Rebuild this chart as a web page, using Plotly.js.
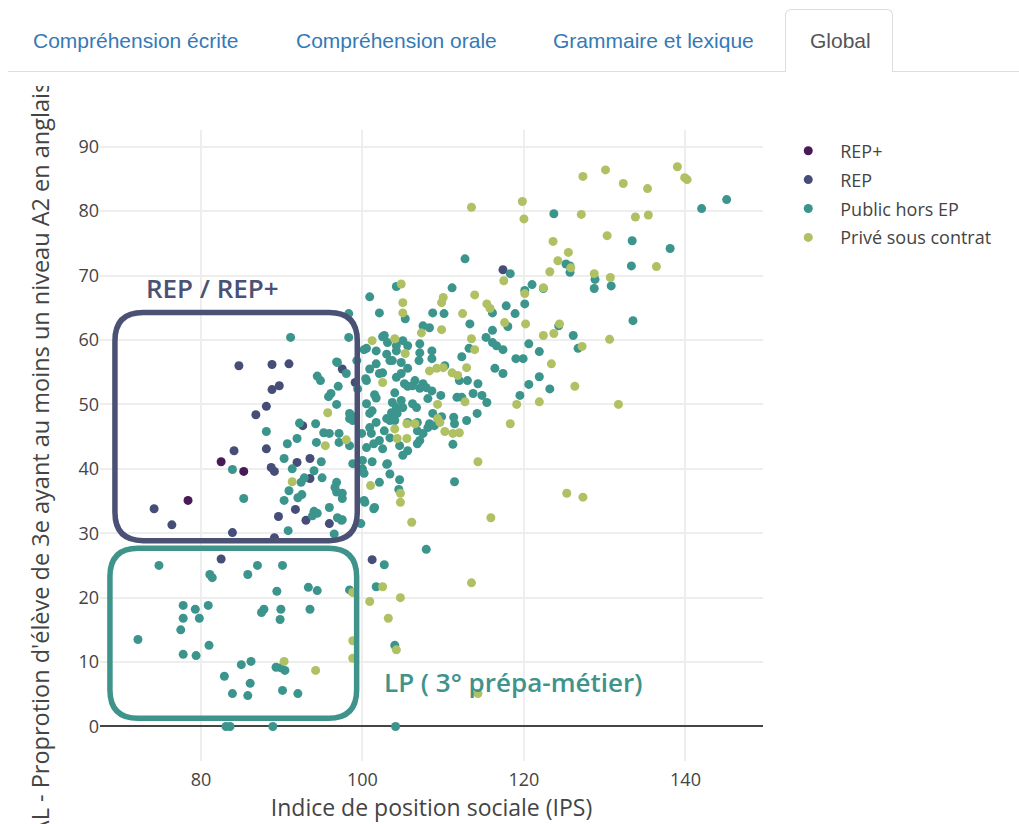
<!DOCTYPE html>
<html><head><meta charset="utf-8">
<script src="https://cdn.plot.ly/plotly-3.0.1.min.js"></script>
<style>
html,body{margin:0;padding:0;background:#fff;overflow:hidden;width:1019px;height:824px;}
#tabs{position:absolute;left:8px;width:1011px;top:0;height:71px;border-bottom:1.5px solid #ddd;z-index:2;background:#fff;font-family:"Liberation Sans",Arial,sans-serif;font-size:21px;}
.tab{position:absolute;top:26px;color:#337ab7;white-space:nowrap;line-height:30px;}
#activeTab{position:absolute;left:777px;top:9px;width:106px;height:62px;border:1.5px solid #ddd;border-bottom:none;border-radius:6px 6px 0 0;background:#fff;}
#activeTab span{position:absolute;left:24px;top:16px;line-height:30px;color:#555;}
#cover{position:absolute;left:0;top:73px;width:90px;height:13px;background:#fff;z-index:3;}
#chart{position:absolute;left:0;top:82px;width:1019px;height:760px;z-index:1;}
</style></head>
<body>
<div id="tabs">
  <span class="tab" style="left:25px">Compréhension écrite</span>
  <span class="tab" style="left:288px">Compréhension orale</span>
  <span class="tab" style="left:545px">Grammaire et lexique</span>
  <div id="activeTab"><span>Global</span></div>
</div>
<div id="cover"></div>
<div id="chart"></div>
<script>
// ---- Data (IPS, % of 3e pupils reaching at least A2 in English) ----
const seriesNames = ["REP+", "REP", "Public hors EP", "Privé sous contrat"];

const repPlus = [[82.5,41.1],[85.3,39.6],[78.4,35.1]];

const rep = [[84.7,56.0],[88.8,56.2],[90.9,56.3],[89.7,52.9],[88.8,52.3],[88.1,49.7],[86.8,48.4],[84.1,42.8],[88.1,43.1],[88.7,40.2],[89.1,39.6],[91.9,41.0],[93.5,41.6],[93.5,38.5],[74.2,33.8],[76.4,31.3],[83.9,30.1],[89.6,32.6],[91.7,33.7],[93.0,32.0],[95.9,31.5],[89.1,29.3],[82.5,26.0],[101.2,25.9],[97.5,55.5],[99.1,53.4],[92.6,46.7],[117.4,70.9]];

const publicHorsEP = [[74.8,25.0],[72.2,13.5],[77.8,18.8],[79.3,18.2],[80.9,18.8],[77.8,16.8],[79.8,16.8],[77.5,15.0],[77.8,11.2],[79.4,11.0],[81.0,12.6],[81.1,23.6],[81.4,23.1],[85.8,23.6],[87.0,25.0],[90.1,25.0],[89.4,21.0],[93.3,21.6],[94.4,21.1],[93.5,18.2],[87.5,17.7],[87.8,18.2],[89.9,18.2],[89.8,16.6],[85.0,9.6],[86.2,10.1],[82.9,7.8],[86.1,6.7],[83.9,5.1],[85.8,4.8],[89.3,9.2],[89.9,9.1],[90.4,8.7],[90.1,5.6],[92.0,5.1],[83.1,0],[83.6,0],[88.9,0],[104.1,0],[98.4,21.2],[102.7,25.1],[101.7,21.7],[104.0,12.6],[90.8,30.4],[96.5,29.9],
[111.2,43.8],[111.4,38.0],[107.9,27.5],[101.5,34.0],[100.3,34.8],[102.1,37.9],[101.2,41.1],[103.0,40.7],[103.4,39.2],[104.6,38.3],[104.5,36.8],[99.8,31.5],[97.4,32.0],[105.0,42.1],[105.6,42.8],[106.8,43.9],
[100.9,66.7],[98.3,64.1],[91.1,60.4],[98.3,60.4],[100.2,58.5],[96.8,56.6],[98.0,54.8],[99.3,56.8],[94.4,54.4],[94.8,53.7],[97.0,52.8],[95.8,51.2],[96.8,50.0],[100.4,54.0],[98.6,48.3],[88.1,45.8],[92.2,47.1],[94.2,47.0],[95.2,45.6],[95.9,45.5],[97.1,45.5],[94.3,44.1],[97.1,44.1],[91.9,44.7],[90.7,43.9],[98.4,43.6],[90.3,41.6],[83.9,39.9],[91.3,40.0],[92.8,38.6],[94.9,41.1],[94.0,39.7],[95.0,38.6],[85.3,35.4],[90.9,36.6],[92.0,35.5],[92.5,36.0],[96.6,37.1],[96.8,36.4],[97.5,35.4],[95.9,34.0],[94.0,33.4],[94.4,33.1],[96.9,32.4],[97.5,32.1],[100.2,35.1],[101.4,33.8],[98.8,40.8],[100.2,39.3],[100.5,43.3],[101.4,43.9],[101.7,47.2],[101.2,49.0],[101.7,51.0],[100.5,50.1],[99.9,45.5],
[102.1,64.2],[102.5,60.5],[103.1,59.6],[100.5,58.7],[101.7,58.3],[103.0,57.8],[104.2,58.3],[103.4,56.8],[100.9,55.5],[101.7,56.3],[102.5,54.9],[104.2,54.2],[100.5,53.7],[101.5,51.5],[99.4,52.4],[100.9,48.6],[100.9,46.4],[103.4,47.5],[102.7,45.9],[103.4,44.8],[102.1,44.4],[102.5,43.1],[103.1,40.8],[96.8,37.9],[98.8,47.5],[92.4,37.9],[93.8,32.7],[90.3,35.1],
[104.2,68.3],[111.1,68.1],[105.3,63.3],[108.7,64.2],[110.1,64.1],[116.1,64.2],[118.3,70.3],[117.8,65.3],[118.9,64.1],[120.1,67.7],[120.1,65.6],[121.0,68.6],[125.7,71.5],[125.7,70.5],[107.5,62.2],[108.3,61.9],[113.3,62.5],[115.3,60.4],[116.1,61.5],[116.1,59.6],[116.6,59.1],[117.4,58.5],[120.6,59.4],[121.9,58.2],[119.0,57.1],[119.9,57.1],[116.4,55.6],[117.4,54.8],[113.2,58.7],[112.3,57.4],[124.3,62.2],[126.1,60.7],[126.7,58.7],[121.9,54.3],[120.6,53.1],[123.2,52.4],[119.5,51.4],
[102.7,60.7],[104.2,59.1],[105.0,59.9],[105.6,59.1],[107.1,59.4],[107.1,58.0],[107.0,56.8],[108.6,58.3],[108.6,57.1],[110.2,56.0],[112.0,53.7],[113.0,53.7],[114.3,53.2],[112.3,51.1],[113.7,51.7],[114.8,51.4],[115.4,50.3],[111.7,51.1],[109.7,51.4],[108.1,50.9],[107.9,52.6],[107.5,53.2],[106.2,52.9],[105.6,52.8],[104.8,54.8],[105.6,55.6],[104.8,56.5],[103.7,56.8],[102.1,54.8],[104.0,51.8],[103.7,50.3],[105.0,49.5],[106.2,50.1],[106.7,49.5],[108.7,48.6],[109.8,48.1],[108.3,47.0],[111.4,47.0],[112.9,47.5],[114.2,48.6],[106.8,45.9],[108.1,46.4],[107.1,44.4],[104.6,43.6],[103.6,48.7],[103.0,47.8],[101.1,45.5],[100.0,41.3],[100.0,40.0],[97.5,36.2],[96.1,51.7],[96.9,56.5],[98.4,48.6],[98.4,47.8],
[106.5,53.7],[108.6,52.1],[104.8,50.6],[111.3,48.0],[105.2,53.2],[107.1,52.5],[104.2,49.5],[104.3,48.6],[104.0,47.5],[105.6,47.2],[106.8,47.2],[108.9,46.7],[107.5,45.5],
[145.1,81.8],[142.0,80.4],[123.7,79.6],[133.4,75.4],[138.1,74.2],[125.2,71.8],[133.3,71.5],[128.8,69.4],[128.7,68.0],[130.8,68.4],[122.4,68.0],[133.5,63.0],[112.7,72.6],[118.0,62.1]];

const priveSousContrat = [[90.3,10.1],[94.2,8.7],[98.8,20.8],[100.9,19.4],[102.5,21.7],[104.7,20.0],[103.2,16.8],[98.8,13.3],[98.8,10.6],[104.2,11.9],
[114.3,41.1],[125.3,36.2],[127.3,35.6],[115.9,32.4],[106.1,31.7],[113.5,22.3],[114.3,5.1],[101.0,37.4],[104.7,36.2],[104.7,34.8],
[101.2,59.9],[95.7,48.7],[98.0,44.5],[95.4,43.6],[91.3,38.0],
[104.0,60.2],[102.5,53.4],[104.0,46.2],[104.3,44.7],
[104.8,68.7],[105.0,65.8],[105.0,64.2],[110.0,66.6],[109.8,65.8],[112.4,64.1],[113.9,67.0],[115.4,65.6],[115.8,64.9],[117.5,69.2],[120.1,67.2],[122.4,68.1],[123.2,70.6],[107.3,61.1],[109.8,61.6],[113.5,60.2],[117.6,62.7],[120.2,62.5],[113.9,58.5],[112.9,55.7],[122.4,60.7],[123.7,61.0],[124.4,62.5],[123.4,56.3],[126.3,52.8],[119.1,50.0],[121.9,50.4],[118.3,47.0],
[105.3,57.9],[108.3,55.2],[109.2,55.6],[110.0,55.7],[111.1,54.9],[111.8,54.5],[112.7,50.4],[109.3,50.0],[109.3,47.8],[109.6,47.2],[110.2,45.8],[111.2,45.5],[112.0,45.6],[106.5,47.0],[105.5,47.0],[105.5,44.7],
[119.8,81.5],[120.0,78.8],[127.3,85.4],[130.1,86.4],[132.3,84.3],[135.3,83.5],[139.0,86.9],[139.9,85.2],[140.2,84.9],[127.1,79.5],[133.8,79.1],[135.4,79.4],[123.6,75.3],[130.3,76.2],[125.5,73.6],[124.2,72.3],[125.8,71.2],[136.4,71.4],[128.7,70.3],[130.7,69.7],[130.6,60.1],[127.2,59.0],[131.7,50.0],[113.5,80.6]];

const xTickVals = [80, 100, 120, 140];
const yTickVals = [0, 10, 20, 30, 40, 50, 60, 70, 80, 90];
const xTitle = "Indice de position sociale (IPS)";
const yTitle = "GLOBAL - Proprotion d'élève de 3e ayant au moins un niveau A2 en anglais";

// Highlight boxes (data coordinates) and their labels
const repBox = {x0: 69.35, x1: 99.36, y0: 28.85, y1: 64.25};
const lpBox  = {x0: 68.73, x1: 99.28, y0: 1.27,  y1: 27.67};
const repLabel = {x: 81.4, y: 68.1, text: "REP / REP+"};
const lpLabel  = {x: 118.7, y: 6.96, text: "LP ( 3° prépa-métier)"};

const colors = ["#4a1a57", "#464e78", "#3c958d", "#afc163"];
const boxColors = {rep: "#4a5174", lp: "#3e938a"};

function roundedPath(b, rx, ry) {
  return `M ${b.x0 + rx} ${b.y1} L ${b.x1 - rx} ${b.y1} Q ${b.x1} ${b.y1} ${b.x1} ${b.y1 - ry} ` +
         `L ${b.x1} ${b.y0 + ry} Q ${b.x1} ${b.y0} ${b.x1 - rx} ${b.y0} ` +
         `L ${b.x0 + rx} ${b.y0} Q ${b.x0} ${b.y0} ${b.x0} ${b.y0 + ry} ` +
         `L ${b.x0} ${b.y1 - ry} Q ${b.x0} ${b.y1} ${b.x0 + rx} ${b.y1} Z`;
}

const allSeries = [repPlus, rep, publicHorsEP, priveSousContrat];
const traces = allSeries.map((pts, i) => ({
  type: "scatter", mode: "markers", name: seriesNames[i], legendgroup: "g" + i,
  x: pts.map(p => p[0]), y: pts.map(p => p[1]),
  marker: {color: colors[i], size: 9, line: {width: 0}}
}));

const font = {family: "Open Sans, DejaVu Sans, sans-serif", color: "#444"};

const layout = {
  width: 1019, height: 760,
  margin: {l: 100, r: 256, t: 48, b: 81},
  paper_bgcolor: "#fff", plot_bgcolor: "#fff",
  font: Object.assign({size: 18}, font),
  showlegend: true,
  legend: {x: 1.02, y: 0.996, font: {size: 18, color: "#444"}, itemwidth: 54,
           traceorder: "grouped", tracegroupgap: 2.5},
  xaxis: {
    range: [67.5, 149.6], tickvals: xTickVals, ticktext: xTickVals.map(String),
    showgrid: true, gridcolor: "#eee", gridwidth: 1.5, zeroline: false, showline: false,
    tickfont: {size: 18, color: "#444"}, ticklabelstandoff: 6,
    title: {text: xTitle, font: {size: 23, color: "#444"}, standoff: 6}
  },
  yaxis: {
    range: [-5.36, 92.6], tickvals: yTickVals, ticktext: yTickVals.map(String),
    showgrid: true, gridcolor: "#eee", gridwidth: 1.5,
    zeroline: true, zerolinecolor: "#444", zerolinewidth: 1.5, showline: false,
    tickfont: {size: 18, color: "#444"}
  },
  shapes: [
    {type: "path", xref: "x", yref: "y", path: roundedPath(repBox, 3.5, 4.4), line: {color: boxColors.rep, width: 5.5}, layer: "above"},
    {type: "path", xref: "x", yref: "y", path: roundedPath(lpBox, 3.5, 4.4), line: {color: boxColors.lp, width: 5.5}, layer: "above"}
  ],
  annotations: [
    {x: repLabel.x, y: repLabel.y, xref: "x", yref: "y", text: repLabel.text, showarrow: false,
     font: {size: 26, color: boxColors.rep, family: "Open Sans, sans-serif", weight: 600}},
    {x: lpLabel.x, y: lpLabel.y, xref: "x", yref: "y", text: lpLabel.text, showarrow: false,
     font: {size: 26, color: boxColors.lp, family: "Open Sans, sans-serif", weight: 600}},
    // y-axis title (long text, partly clipped as in the reference)
    {x: -0.0905, y: 0.4295, xref: "paper", yref: "paper", xanchor: "center", yanchor: "middle",
     text: yTitle, textangle: -90, showarrow: false,
     font: {size: 23.5, color: "#444", family: "Open Sans, DejaVu Sans, sans-serif"}}
  ]
};

Plotly.newPlot("chart", traces, layout, {displayModeBar: false, responsive: false});
</script>
</body></html>
